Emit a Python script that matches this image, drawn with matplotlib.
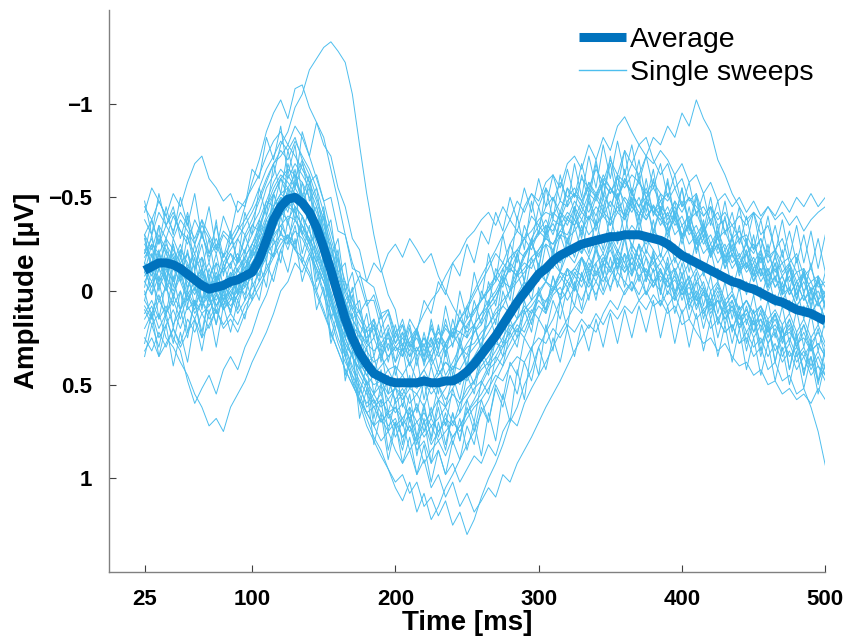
import numpy as np
import matplotlib
matplotlib.use("Agg")
import matplotlib.pyplot as plt

# time grid of the sweeps (ms)
time_ms = np.arange(25, 501, 5)

# grand average (uV, negative is drawn upwards)
average = [
    -0.11, -0.13, -0.15, -0.15, -0.14, -0.12, -0.09, -0.06, -0.03, -0.01, -0.02, -0.03,
    -0.05, -0.06, -0.08, -0.10, -0.17, -0.27, -0.38, -0.45, -0.49, -0.50, -0.47, -0.42,
    -0.34, -0.23, -0.11, 0.02, 0.15, 0.25, 0.33, 0.39, 0.44, 0.46, 0.48, 0.49,
    0.49, 0.49, 0.49, 0.48, 0.49, 0.49, 0.48, 0.48, 0.46, 0.43, 0.39, 0.34,
    0.29, 0.24, 0.18, 0.12, 0.06, 0.01, -0.04, -0.09, -0.12, -0.16, -0.19, -0.21,
    -0.23, -0.25, -0.26, -0.27, -0.28, -0.29, -0.29, -0.30, -0.30, -0.30, -0.29, -0.28,
    -0.27, -0.25, -0.22, -0.19, -0.17, -0.15, -0.13, -0.11, -0.09, -0.07, -0.05, -0.04,
    -0.02, -0.01, 0.01, 0.03, 0.05, 0.06, 0.08, 0.10, 0.11, 0.12, 0.14, 0.16,
]

# single sweeps
sweep_01 = [
    -0.05, -0.12, -0.02, -0.10, -0.18, -0.08, -0.14, -0.04, -0.10, 0.02, -0.06, -0.12,
    -0.20, -0.15, -0.28, -0.35, -0.42, -0.55, -0.62, -0.78, -0.85, -0.98, -1.05, -1.18,
    -1.24, -1.30, -1.33, -1.28, -1.22, -1.05, -0.78, -0.52, -0.30, -0.12, 0.02, 0.10,
    0.30, 0.18, 0.35, 0.28, 0.40, 0.32, 0.45, 0.38, 0.30, 0.34, 0.22, 0.18,
    0.10, 0.05, -0.05, -0.12, -0.08, -0.20, -0.25, -0.18, -0.30, -0.36, -0.28, -0.40,
    -0.35, -0.45, -0.38, -0.50, -0.42, -0.55, -0.48, -0.40, -0.52, -0.45, -0.38, -0.46,
    -0.40, -0.32, -0.38, -0.28, -0.35, -0.22, -0.28, -0.18, -0.25, -0.12, -0.20, -0.10,
    -0.15, -0.05, -0.12, 0.00, -0.08, 0.05, -0.02, 0.08, 0.02, 0.12, 0.06, 0.15,
]
sweep_02 = [
    -0.30, -0.22, -0.35, -0.28, -0.40, -0.32, -0.25, -0.38, -0.30, -0.20, -0.28, -0.18,
    -0.25, -0.32, -0.45, -0.58, -0.70, -0.85, -0.95, -1.02, -0.92, -1.08, -1.10, -0.98,
    -0.90, -0.82, -0.65, -0.48, -0.30, -0.15, -0.05, 0.08, 0.02, 0.15, 0.10, 0.22,
    0.18, 0.28, 0.20, 0.32, 0.25, 0.35, 0.28, 0.22, 0.30, 0.18, 0.12, 0.05,
    0.00, -0.08, -0.02, -0.15, -0.22, -0.18, -0.28, -0.35, -0.30, -0.42, -0.38, -0.48,
    -0.52, -0.45, -0.58, -0.50, -0.62, -0.55, -0.48, -0.60, -0.52, -0.45, -0.55, -0.42,
    -0.48, -0.38, -0.45, -0.35, -0.40, -0.30, -0.36, -0.25, -0.32, -0.22, -0.28, -0.18,
    -0.25, -0.15, -0.22, -0.10, -0.18, -0.08, -0.14, -0.02, -0.10, 0.00, -0.06, 0.04,
]
sweep_03 = [
    0.10, 0.18, 0.12, 0.25, 0.30, 0.38, 0.45, 0.55, 0.62, 0.72, 0.68, 0.75,
    0.62, 0.55, 0.48, 0.38, 0.30, 0.22, 0.12, 0.00, -0.05, -0.15, -0.10, -0.20,
    -0.12, -0.05, 0.05, 0.15, 0.28, 0.35, 0.45, 0.52, 0.60, 0.55, 0.68, 0.62,
    0.72, 0.65, 0.78, 0.70, 0.82, 0.75, 0.68, 0.72, 0.60, 0.55, 0.48, 0.40,
    0.35, 0.28, 0.30, 0.20, 0.15, 0.08, 0.12, 0.02, -0.05, 0.00, -0.10, -0.05,
    -0.12, -0.08, -0.18, -0.10, -0.15, -0.22, -0.12, -0.20, -0.14, -0.25, -0.18, -0.10,
    -0.15, -0.08, -0.12, -0.02, -0.08, 0.02, -0.05, 0.08, 0.00, 0.10, 0.05, 0.15,
    0.10, 0.18, 0.12, 0.22, 0.15, 0.25, 0.20, 0.30, 0.22, 0.32, 0.28, 0.35,
]
sweep_04 = [
    0.05, 0.12, 0.02, 0.15, 0.25, 0.32, 0.48, 0.60, 0.52, 0.45, 0.55, 0.42,
    0.35, 0.42, 0.30, 0.22, 0.10, 0.02, -0.10, -0.22, -0.30, -0.25, -0.35, -0.28,
    -0.20, -0.08, 0.05, 0.18, 0.30, 0.42, 0.50, 0.62, 0.58, 0.70, 0.65, 0.78,
    0.70, 0.85, 0.78, 0.92, 0.85, 0.80, 0.88, 0.78, 0.72, 0.65, 0.58, 0.50,
    0.42, 0.38, 0.30, 0.25, 0.18, 0.22, 0.12, 0.05, 0.10, 0.00, -0.05, -0.12,
    -0.08, -0.18, -0.12, -0.22, -0.15, -0.28, -0.20, -0.32, -0.25, -0.18, -0.28, -0.22,
    -0.15, -0.22, -0.10, -0.18, -0.05, -0.12, -0.02, 0.05, -0.04, 0.08, 0.02, 0.12,
    0.05, 0.15, 0.08, 0.20, 0.12, 0.25, 0.18, 0.30, 0.35, 0.28, 0.40, 0.45,
]
sweep_05 = [
    -0.15, -0.08, -0.20, -0.12, -0.05, -0.15, -0.02, -0.10, 0.05, -0.05, 0.08, 0.00,
    -0.08, 0.02, -0.10, -0.15, -0.22, -0.30, -0.42, -0.50, -0.45, -0.55, -0.48, -0.38,
    -0.25, -0.12, 0.05, 0.20, 0.35, 0.48, 0.60, 0.72, 0.80, 0.88, 0.95, 1.02,
    0.98, 1.08, 1.02, 1.15, 1.10, 1.20, 1.12, 1.25, 1.18, 1.30, 1.22, 1.10,
    1.00, 0.92, 0.82, 0.70, 0.62, 0.50, 0.42, 0.30, 0.22, 0.15, 0.05, 0.00,
    -0.08, -0.02, -0.12, -0.05, -0.15, -0.10, -0.20, -0.12, -0.22, -0.15, -0.08, -0.18,
    -0.10, -0.05, -0.12, 0.00, -0.08, 0.05, -0.02, 0.10, 0.05, 0.15, 0.08, 0.18,
    0.12, 0.22, 0.15, 0.28, 0.20, 0.32, 0.25, 0.35, 0.30, 0.40, 0.32, 0.42,
]
sweep_06 = [
    -0.25, -0.18, -0.30, -0.22, -0.15, -0.25, -0.12, -0.20, -0.08, -0.15, -0.05, -0.12,
    -0.20, -0.10, -0.18, -0.25, -0.32, -0.45, -0.52, -0.60, -0.55, -0.62, -0.50, -0.42,
    -0.30, -0.15, 0.02, 0.18, 0.32, 0.45, 0.58, 0.68, 0.78, 0.85, 0.95, 1.05,
    1.12, 1.02, 1.18, 1.08, 1.22, 1.15, 1.05, 0.98, 0.90, 0.82, 0.75, 0.65,
    0.58, 0.48, 0.40, 0.32, 0.25, 0.18, 0.10, 0.15, 0.05, 0.00, -0.08, -0.02,
    -0.10, -0.05, -0.15, -0.08, -0.18, -0.12, -0.22, -0.15, -0.08, -0.18, -0.10, -0.05,
    -0.12, -0.02, -0.08, 0.02, -0.05, 0.08, 0.00, 0.12, 0.05, 0.15, 0.10, 0.20,
    0.15, 0.25, 0.18, 0.28, 0.22, 0.35, 0.28, 0.38, 0.32, 0.42, 0.35, 0.45,
]
sweep_07 = [
    0.15, 0.08, 0.20, 0.12, 0.05, 0.15, 0.02, 0.10, -0.02, 0.08, 0.00, 0.10,
    0.02, 0.12, 0.05, -0.02, -0.10, -0.18, -0.30, -0.35, -0.28, -0.38, -0.30, -0.22,
    -0.12, 0.00, 0.12, 0.25, 0.35, 0.48, 0.55, 0.65, 0.72, 0.80, 0.75, 0.85,
    0.92, 0.85, 0.98, 0.90, 1.05, 0.98, 1.10, 1.02, 1.15, 1.08, 1.18, 1.12,
    1.05, 1.10, 0.98, 1.02, 0.92, 0.85, 0.78, 0.70, 0.62, 0.55, 0.48, 0.40,
    0.32, 0.25, 0.18, 0.22, 0.12, 0.05, 0.10, 0.00, -0.05, 0.02, -0.08, -0.02,
    -0.10, -0.05, 0.02, -0.08, 0.05, 0.00, 0.10, 0.05, 0.15, 0.08, 0.20, 0.12,
    0.22, 0.15, 0.28, 0.20, 0.32, 0.25, 0.35, 0.30, 0.42, 0.35, 0.48, 0.40,
]
sweep_08 = [
    -0.20, -0.28, -0.15, -0.25, -0.18, -0.10, -0.20, -0.05, -0.12, 0.00, -0.08, -0.02,
    -0.10, -0.05, -0.15, -0.20, -0.28, -0.38, -0.45, -0.52, -0.48, -0.58, -0.52, -0.45,
    -0.35, -0.22, -0.08, 0.05, 0.18, 0.30, 0.40, 0.50, 0.58, 0.65, 0.72, 0.68,
    0.78, 0.72, 0.85, 0.80, 0.92, 0.85, 0.98, 0.92, 1.02, 0.95, 0.88, 0.92,
    0.82, 0.88, 0.75, 0.68, 0.72, 0.60, 0.52, 0.45, 0.38, 0.30, 0.22, 0.15,
    0.08, 0.12, 0.02, -0.05, 0.02, -0.08, -0.15, -0.10, -0.18, -0.12, -0.22, -0.15,
    -0.20, -0.12, -0.18, -0.08, -0.15, -0.05, -0.10, 0.00, -0.05, 0.05, 0.00, 0.10,
    0.05, 0.12, 0.08, 0.18, 0.12, 0.22, 0.15, 0.25, 0.18, 0.28, 0.22, 0.30,
]
sweep_09 = [
    -0.30, -0.38, -0.25, -0.35, -0.42, -0.32, -0.28, -0.20, -0.30, -0.18, -0.25, -0.15,
    -0.22, -0.28, -0.35, -0.42, -0.50, -0.60, -0.68, -0.75, -0.70, -0.80, -0.72, -0.65,
    -0.55, -0.42, -0.28, -0.15, 0.00, 0.08, 0.15, 0.22, 0.18, 0.28, 0.22, 0.30,
    0.25, 0.32, 0.22, 0.30, 0.20, 0.28, 0.18, 0.25, 0.15, 0.10, 0.02, -0.05,
    -0.12, -0.20, -0.15, -0.25, -0.32, -0.28, -0.40, -0.35, -0.45, -0.50, -0.42, -0.55,
    -0.50, -0.60, -0.55, -0.65, -0.58, -0.70, -0.62, -0.75, -0.68, -0.78, -0.72, -0.82,
    -0.78, -0.88, -0.82, -0.95, -0.88, -1.02, -0.92, -0.85, -0.70, -0.62, -0.52, -0.45,
    -0.38, -0.42, -0.30, -0.35, -0.22, -0.28, -0.15, -0.20, -0.08, -0.12, -0.02, -0.05,
]
sweep_10 = [
    -0.22, -0.15, -0.28, -0.20, -0.12, -0.22, -0.15, -0.05, -0.12, -0.02, -0.10, 0.00,
    -0.08, -0.15, -0.22, -0.30, -0.38, -0.48, -0.58, -0.65, -0.60, -0.68, -0.62, -0.55,
    -0.45, -0.32, -0.18, -0.05, 0.08, 0.15, 0.22, 0.30, 0.25, 0.35, 0.28, 0.38,
    0.30, 0.40, 0.32, 0.25, 0.35, 0.28, 0.20, 0.25, 0.15, 0.08, 0.00, -0.08,
    -0.15, -0.22, -0.30, -0.38, -0.32, -0.45, -0.52, -0.48, -0.58, -0.62, -0.55, -0.68,
    -0.72, -0.65, -0.78, -0.70, -0.82, -0.75, -0.88, -0.93, -0.85, -0.78, -0.82, -0.70,
    -0.62, -0.68, -0.55, -0.60, -0.48, -0.52, -0.40, -0.45, -0.35, -0.38, -0.28, -0.32,
    -0.25, -0.20, -0.28, -0.15, -0.22, -0.10, -0.15, -0.05, -0.10, 0.00, -0.05, 0.02,
]
sweep_11 = [
    -0.42, -0.55, -0.48, -0.40, -0.52, -0.45, -0.58, -0.68, -0.72, -0.60, -0.55, -0.48,
    -0.52, -0.42, -0.48, -0.55, -0.62, -0.72, -0.80, -0.85, -0.78, -0.88, -0.82, -0.72,
    -0.60, -0.48, -0.32, -0.18, -0.05, 0.05, 0.12, 0.20, 0.15, 0.25, 0.18, 0.28,
    0.22, 0.30, 0.25, 0.35, 0.28, 0.20, 0.30, 0.22, 0.15, 0.20, 0.10, 0.05,
    -0.02, -0.08, -0.15, -0.10, -0.20, -0.28, -0.22, -0.32, -0.38, -0.30, -0.42, -0.35,
    -0.45, -0.38, -0.48, -0.40, -0.52, -0.45, -0.55, -0.48, -0.42, -0.50, -0.40, -0.45,
    -0.35, -0.42, -0.30, -0.35, -0.25, -0.30, -0.20, -0.25, -0.15, -0.22, -0.12, -0.18,
    -0.10, -0.15, -0.05, -0.12, -0.02, -0.08, 0.02, -0.05, 0.05, -0.02, 0.08, 0.02,
]
sweep_12 = [
    0.20, 0.12, 0.25, 0.18, 0.10, 0.20, 0.08, 0.15, 0.05, 0.12, 0.02, 0.08,
    0.00, 0.05, -0.05, -0.12, -0.20, -0.28, -0.35, -0.42, -0.38, -0.45, -0.40, -0.32,
    -0.22, -0.10, 0.02, 0.15, 0.25, 0.35, 0.42, 0.50, 0.45, 0.55, 0.48, 0.58,
    0.52, 0.60, 0.55, 0.62, 0.50, 0.58, 0.52, 0.45, 0.50, 0.40, 0.35, 0.28,
    0.22, 0.15, 0.08, 0.12, 0.02, -0.05, 0.00, -0.10, -0.05, -0.15, -0.10, -0.20,
    -0.15, -0.25, -0.18, -0.28, -0.20, -0.30, -0.22, -0.15, -0.25, -0.18, -0.10, -0.15,
    -0.05, -0.12, 0.00, -0.05, 0.08, 0.02, 0.12, 0.05, 0.15, 0.22, 0.18, 0.28,
    0.25, 0.35, 0.30, 0.42, 0.38, 0.48, 0.45, 0.55, 0.52, 0.62, 0.75, 0.93,
]
sweep_13 = [
    0.25, 0.32, 0.22, 0.30, 0.20, 0.28, 0.15, 0.22, 0.12, 0.20, 0.10, 0.18,
    0.12, 0.18, 0.08, 0.02, -0.05, -0.12, -0.20, -0.28, -0.25, -0.32, -0.28, -0.20,
    -0.10, 0.02, 0.15, 0.28, 0.38, 0.45, 0.52, 0.60, 0.55, 0.62, 0.58, 0.65,
    0.60, 0.68, 0.62, 0.70, 0.65, 0.58, 0.62, 0.55, 0.60, 0.52, 0.48, 0.42,
    0.38, 0.32, 0.25, 0.18, 0.22, 0.12, 0.08, 0.02, 0.06, -0.02, 0.02, -0.05,
    0.00, -0.08, -0.02, -0.10, -0.05, -0.12, -0.05, 0.02, -0.05, 0.05, 0.00, 0.08,
    0.05, 0.12, 0.08, 0.18, 0.15, 0.22, 0.28, 0.25, 0.32, 0.28, 0.35, 0.40,
    0.38, 0.45, 0.42, 0.50, 0.48, 0.55, 0.52, 0.58, 0.55, 0.60, 0.52, 0.58,
]
sweep_14 = [
    -0.18, -0.25, -0.20, -0.28, -0.22, -0.15, -0.20, -0.12, -0.18, -0.08, -0.15, -0.10,
    -0.15, -0.20, -0.12, -0.22, -0.30, -0.40, -0.52, -0.60, -0.65, -0.62, -0.58, -0.50,
    -0.42, -0.30, -0.18, -0.05, 0.08, 0.18, 0.25, 0.32, 0.38, 0.35, 0.42, 0.40,
    0.45, 0.38, 0.48, 0.42, 0.35, 0.45, 0.38, 0.42, 0.35, 0.30, 0.28, 0.22,
    0.18, 0.10, 0.05, 0.00, -0.08, -0.12, -0.18, -0.22, -0.28, -0.25, -0.32, -0.30,
    -0.38, -0.32, -0.40, -0.35, -0.42, -0.38, -0.45, -0.40, -0.48, -0.42, -0.38, -0.45,
    -0.40, -0.35, -0.42, -0.30, -0.35, -0.28, -0.32, -0.22, -0.28, -0.18, -0.22, -0.15,
    -0.20, -0.12, -0.18, -0.08, -0.12, -0.02, -0.08, 0.02, -0.05, 0.05, 0.00, 0.08,
]
sweep_15 = [
    0.02, -0.05, 0.05, -0.02, 0.08, 0.00, 0.10, 0.05, 0.12, 0.08, 0.02, 0.10,
    0.05, 0.00, -0.05, -0.08, -0.15, -0.22, -0.28, -0.35, -0.40, -0.38, -0.32, -0.25,
    -0.15, -0.05, 0.08, 0.20, 0.30, 0.40, 0.48, 0.55, 0.62, 0.58, 0.65, 0.62,
    0.68, 0.62, 0.70, 0.65, 0.72, 0.68, 0.62, 0.70, 0.65, 0.58, 0.52, 0.48,
    0.40, 0.35, 0.28, 0.22, 0.15, 0.10, 0.05, 0.00, -0.05, -0.02, -0.10, -0.08,
    -0.12, -0.18, -0.10, -0.15, -0.20, -0.12, -0.18, -0.10, -0.15, -0.08, -0.12, -0.05,
    -0.08, -0.02, -0.06, 0.02, -0.02, 0.05, 0.02, 0.08, 0.05, 0.12, 0.08, 0.15,
    0.10, 0.18, 0.15, 0.22, 0.18, 0.25, 0.22, 0.28, 0.25, 0.32, 0.28, 0.35,
]
sweep_16 = [
    -0.38, -0.30, -0.42, -0.35, -0.28, -0.38, -0.32, -0.25, -0.35, -0.28, -0.20, -0.30,
    -0.25, -0.32, -0.38, -0.45, -0.55, -0.65, -0.72, -0.80, -0.75, -0.82, -0.70, -0.62,
    -0.50, -0.38, -0.25, -0.10, 0.02, 0.10, 0.18, 0.25, 0.20, 0.30, 0.25, 0.32,
    0.28, 0.35, 0.30, 0.38, 0.32, 0.25, 0.32, 0.28, 0.22, 0.25, 0.18, 0.12,
    0.05, 0.00, -0.08, -0.15, -0.10, -0.20, -0.25, -0.32, -0.28, -0.38, -0.35, -0.42,
    -0.38, -0.48, -0.42, -0.52, -0.45, -0.55, -0.50, -0.60, -0.52, -0.58, -0.50, -0.55,
    -0.48, -0.52, -0.42, -0.48, -0.38, -0.42, -0.32, -0.38, -0.28, -0.32, -0.22, -0.28,
    -0.20, -0.25, -0.15, -0.20, -0.10, -0.15, -0.05, -0.10, 0.00, -0.05, 0.05, 0.00,
]
sweep_17 = [
    -0.12, -0.05, -0.15, -0.08, 0.00, -0.10, 0.02, -0.05, 0.05, -0.02, 0.08, 0.00,
    -0.05, -0.12, -0.18, -0.25, -0.35, -0.45, -0.55, -0.62, -0.58, -0.52, -0.45, -0.38,
    -0.28, -0.18, -0.10, 0.00, 0.05, 0.00, -0.08, -0.05, -0.15, -0.10, -0.20, -0.25,
    -0.18, -0.28, -0.22, -0.15, -0.20, -0.08, 0.00, 0.08, 0.15, 0.22, 0.18, 0.12,
    0.08, 0.02, -0.05, -0.02, -0.10, -0.15, -0.12, -0.22, -0.28, -0.25, -0.32, -0.38,
    -0.35, -0.42, -0.38, -0.45, -0.40, -0.48, -0.42, -0.50, -0.45, -0.40, -0.48, -0.42,
    -0.38, -0.32, -0.40, -0.30, -0.35, -0.25, -0.30, -0.20, -0.25, -0.15, -0.20, -0.12,
    -0.15, -0.08, -0.12, -0.02, -0.08, 0.02, -0.02, 0.08, 0.02, 0.12, 0.05, 0.15,
]
sweep_18 = [
    0.32, 0.25, 0.35, 0.28, 0.20, 0.30, 0.22, 0.15, 0.25, 0.18, 0.10, 0.20,
    0.15, 0.22, 0.12, 0.05, -0.02, -0.10, -0.18, -0.25, -0.30, -0.22, -0.18, -0.10,
    0.00, 0.10, 0.22, 0.32, 0.42, 0.50, 0.58, 0.65, 0.72, 0.68, 0.75, 0.70,
    0.78, 0.72, 0.80, 0.75, 0.68, 0.75, 0.70, 0.78, 0.72, 0.65, 0.60, 0.55,
    0.48, 0.42, 0.35, 0.28, 0.20, 0.25, 0.15, 0.08, 0.12, 0.02, -0.02, 0.05,
    -0.02, 0.05, -0.05, 0.02, -0.08, -0.02, -0.10, -0.05, 0.00, -0.08, 0.02, -0.05,
    0.00, 0.08, 0.02, 0.12, 0.05, 0.15, 0.10, 0.20, 0.15, 0.22, 0.18, 0.28,
    0.22, 0.30, 0.25, 0.35, 0.28, 0.38, 0.32, 0.42, 0.35, 0.45, 0.40, 0.48,
]
sweep_19 = [
    -0.08, -0.15, -0.05, -0.12, -0.20, -0.10, -0.05, 0.02, -0.08, 0.05, -0.02, 0.05,
    -0.02, -0.08, -0.12, -0.18, -0.25, -0.35, -0.45, -0.52, -0.55, -0.50, -0.45, -0.38,
    -0.30, -0.18, -0.05, 0.08, 0.20, 0.30, 0.38, 0.45, 0.50, 0.48, 0.55, 0.52,
    0.58, 0.52, 0.55, 0.48, 0.55, 0.50, 0.58, 0.52, 0.45, 0.48, 0.40, 0.35,
    0.30, 0.22, 0.18, 0.10, 0.05, 0.00, -0.05, -0.08, -0.12, -0.18, -0.15, -0.22,
    -0.25, -0.20, -0.28, -0.22, -0.30, -0.25, -0.32, -0.28, -0.35, -0.30, -0.25, -0.32,
    -0.28, -0.22, -0.25, -0.18, -0.20, -0.12, -0.15, -0.08, -0.12, -0.05, -0.08, 0.00,
    -0.05, 0.02, -0.02, 0.05, 0.02, 0.08, 0.05, 0.12, 0.08, 0.15, 0.12, 0.20,
]
sweep_20 = [
    -0.05, 0.02, -0.08, 0.00, -0.12, -0.05, 0.05, -0.02, 0.08, 0.02, -0.05, 0.05,
    0.00, -0.05, -0.10, -0.15, -0.22, -0.32, -0.40, -0.48, -0.52, -0.45, -0.40, -0.32,
    -0.22, -0.12, 0.00, 0.12, 0.22, 0.32, 0.38, 0.45, 0.40, 0.48, 0.42, 0.50,
    0.45, 0.52, 0.48, 0.42, 0.50, 0.45, 0.38, 0.42, 0.35, 0.28, 0.22, 0.15,
    0.08, 0.02, -0.05, -0.12, -0.08, -0.18, -0.25, -0.30, -0.35, -0.32, -0.42, -0.38,
    -0.48, -0.42, -0.52, -0.48, -0.58, -0.52, -0.62, -0.58, -0.68, -0.62, -0.72, -0.68,
    -0.75, -0.70, -0.62, -0.68, -0.58, -0.62, -0.52, -0.58, -0.48, -0.52, -0.45, -0.50,
    -0.42, -0.48, -0.40, -0.45, -0.38, -0.42, -0.35, -0.40, -0.32, -0.38, -0.42, -0.45,
]
sweep_21 = [
    0.08, 0.15, 0.05, 0.12, 0.02, 0.10, 0.00, 0.08, -0.02, 0.05, 0.12, 0.05,
    0.10, 0.02, -0.05, -0.10, -0.18, -0.25, -0.32, -0.40, -0.45, -0.42, -0.35, -0.28,
    -0.18, -0.08, 0.05, 0.15, 0.25, 0.35, 0.42, 0.48, 0.55, 0.50, 0.58, 0.52,
    0.55, 0.48, 0.52, 0.45, 0.50, 0.42, 0.48, 0.40, 0.42, 0.35, 0.30, 0.25,
    0.18, 0.12, 0.08, 0.00, -0.05, -0.10, -0.15, -0.20, -0.25, -0.22, -0.30, -0.28,
    -0.32, -0.38, -0.30, -0.35, -0.40, -0.35, -0.42, -0.38, -0.45, -0.40, -0.48, -0.42,
    -0.45, -0.40, -0.48, -0.42, -0.50, -0.45, -0.40, -0.45, -0.38, -0.42, -0.35, -0.40,
    -0.35, -0.42, -0.38, -0.45, -0.40, -0.48, -0.42, -0.50, -0.45, -0.52, -0.45, -0.50,
]
sweep_22 = [
    -0.10, -0.02, -0.12, -0.05, 0.02, -0.08, 0.05, -0.02, 0.08, 0.00, 0.05, -0.03,
    0.02, -0.05, -0.10, -0.18, -0.25, -0.35, -0.42, -0.50, -0.48, -0.42, -0.35, -0.25,
    -0.15, -0.05, 0.08, 0.18, 0.28, 0.35, 0.42, 0.38, 0.45, 0.40, 0.35, 0.30,
    0.32, 0.25, 0.20, 0.12, 0.05, 0.00, -0.08, -0.15, -0.20, -0.28, -0.32, -0.38,
    -0.42, -0.35, -0.45, -0.38, -0.48, -0.42, -0.52, -0.45, -0.55, -0.48, -0.58, -0.50,
    -0.55, -0.48, -0.58, -0.52, -0.60, -0.55, -0.50, -0.58, -0.52, -0.45, -0.50, -0.42,
    -0.38, -0.45, -0.35, -0.40, -0.30, -0.35, -0.25, -0.30, -0.20, -0.25, -0.15, -0.20,
    -0.12, -0.18, -0.08, -0.12, -0.02, -0.08, 0.02, -0.05, 0.05, 0.00, 0.08, 0.02,
]
sweep_23 = [
    0.12, 0.05, 0.15, 0.08, 0.18, 0.10, 0.02, 0.12, 0.05, 0.15, 0.08, 0.02,
    0.08, 0.02, -0.02, -0.08, -0.12, -0.20, -0.25, -0.30, -0.28, -0.22, -0.15, -0.08,
    0.02, 0.12, 0.22, 0.32, 0.42, 0.50, 0.58, 0.65, 0.62, 0.70, 0.65, 0.72,
    0.68, 0.75, 0.70, 0.78, 0.72, 0.80, 0.75, 0.70, 0.75, 0.68, 0.62, 0.58,
    0.52, 0.45, 0.48, 0.40, 0.35, 0.38, 0.30, 0.25, 0.28, 0.20, 0.25, 0.18,
    0.22, 0.15, 0.20, 0.12, 0.18, 0.10, 0.15, 0.08, 0.12, 0.05, 0.10, 0.02,
    0.08, 0.00, 0.05, -0.02, 0.02, -0.05, 0.00, 0.05, -0.02, 0.08, 0.02, 0.10,
    0.05, 0.12, 0.08, 0.15, 0.10, 0.18, 0.12, 0.22, 0.15, 0.25, 0.18, 0.28,
]
sweep_24 = [
    -0.45, -0.38, -0.48, -0.40, -0.32, -0.42, -0.35, -0.28, -0.38, -0.30, -0.22, -0.32,
    -0.28, -0.35, -0.30, -0.38, -0.48, -0.58, -0.68, -0.72, -0.78, -0.72, -0.65, -0.58,
    -0.48, -0.35, -0.22, -0.08, 0.05, 0.15, 0.22, 0.28, 0.32, 0.28, 0.35, 0.30,
    0.35, 0.28, 0.32, 0.25, 0.30, 0.22, 0.28, 0.20, 0.22, 0.15, 0.10, 0.05,
    0.00, -0.05, -0.12, -0.18, -0.22, -0.28, -0.32, -0.38, -0.42, -0.40, -0.48, -0.45,
    -0.52, -0.48, -0.55, -0.50, -0.58, -0.52, -0.60, -0.55, -0.62, -0.58, -0.52, -0.58,
    -0.52, -0.48, -0.55, -0.45, -0.50, -0.42, -0.45, -0.38, -0.42, -0.32, -0.35, -0.28,
    -0.30, -0.22, -0.28, -0.18, -0.22, -0.15, -0.18, -0.10, -0.12, -0.05, -0.08, -0.02,
]
sweep_25 = [
    -0.30, -0.12, -0.35, -0.05, -0.28, -0.18, -0.40, -0.10, -0.32, -0.15, -0.38, -0.08,
    -0.30, -0.15, -0.42, -0.30, -0.55, -0.40, -0.68, -0.52, -0.75, -0.60, -0.70, -0.48,
    -0.55, -0.30, -0.38, -0.10, -0.15, 0.10, 0.05, 0.28, 0.15, 0.38, 0.22, 0.45,
    0.30, 0.52, 0.35, 0.58, 0.40, 0.55, 0.32, 0.50, 0.28, 0.42, 0.18, 0.30,
    0.05, 0.18, -0.08, 0.05, -0.20, -0.05, -0.28, -0.12, -0.35, -0.20, -0.40, -0.25,
    -0.45, -0.30, -0.52, -0.35, -0.58, -0.40, -0.62, -0.42, -0.55, -0.38, -0.60, -0.40,
    -0.52, -0.35, -0.48, -0.28, -0.45, -0.25, -0.38, -0.18, -0.35, -0.15, -0.30, -0.10,
    -0.28, -0.08, -0.22, -0.02, -0.20, 0.02, -0.15, 0.05, -0.12, 0.10, -0.08, 0.08,
]
sweep_26 = [
    0.05, -0.12, 0.15, -0.05, 0.20, 0.00, 0.22, 0.05, 0.25, 0.02, 0.18, -0.02,
    0.12, -0.08, 0.05, -0.15, -0.05, -0.28, -0.18, -0.40, -0.25, -0.45, -0.20, -0.35,
    -0.05, -0.18, 0.15, 0.05, 0.35, 0.22, 0.55, 0.40, 0.68, 0.50, 0.75, 0.58,
    0.82, 0.62, 0.88, 0.68, 0.92, 0.70, 0.85, 0.65, 0.80, 0.58, 0.70, 0.48,
    0.55, 0.35, 0.40, 0.22, 0.30, 0.10, 0.22, 0.00, 0.12, -0.08, 0.05, -0.12,
    0.00, -0.18, -0.05, -0.25, -0.08, -0.28, -0.12, -0.30, -0.10, -0.25, -0.05, -0.20,
    0.02, -0.15, 0.05, -0.10, 0.10, -0.05, 0.15, 0.00, 0.18, 0.05, 0.22, 0.08,
    0.28, 0.10, 0.32, 0.15, 0.38, 0.18, 0.42, 0.22, 0.45, 0.25, 0.48, 0.30,
]
sweep_27 = [
    -0.20, -0.38, -0.25, -0.45, -0.30, -0.50, -0.35, -0.52, -0.28, -0.45, -0.22, -0.40,
    -0.30, -0.48, -0.45, -0.65, -0.60, -0.82, -0.70, -0.88, -0.62, -0.78, -0.50, -0.62,
    -0.35, -0.45, -0.18, -0.28, 0.00, -0.10, 0.12, 0.05, 0.25, 0.12, 0.32, 0.18,
    0.35, 0.20, 0.40, 0.22, 0.38, 0.18, 0.35, 0.15, 0.28, 0.08, 0.20, 0.00,
    0.08, -0.12, -0.05, -0.25, -0.15, -0.35, -0.25, -0.45, -0.30, -0.50, -0.38, -0.55,
    -0.42, -0.62, -0.48, -0.68, -0.50, -0.72, -0.55, -0.75, -0.52, -0.70, -0.48, -0.65,
    -0.42, -0.60, -0.38, -0.55, -0.32, -0.50, -0.28, -0.45, -0.22, -0.40, -0.18, -0.35,
    -0.12, -0.30, -0.08, -0.25, -0.05, -0.22, 0.00, -0.18, 0.02, -0.15, 0.05, -0.10,
]
sweep_28 = [
    0.28, 0.12, 0.35, 0.18, 0.40, 0.22, 0.38, 0.15, 0.32, 0.10, 0.30, 0.08,
    0.22, 0.05, 0.15, -0.05, 0.05, -0.15, -0.05, -0.22, -0.10, -0.28, -0.05, -0.18,
    0.10, -0.02, 0.28, 0.15, 0.45, 0.32, 0.60, 0.48, 0.72, 0.58, 0.85, 0.70,
    0.92, 0.78, 0.98, 0.82, 1.02, 0.85, 0.98, 0.80, 0.90, 0.72, 0.82, 0.62,
    0.70, 0.50, 0.58, 0.38, 0.45, 0.25, 0.32, 0.15, 0.22, 0.05, 0.15, -0.02,
    0.08, -0.10, 0.05, -0.15, 0.00, -0.18, -0.02, -0.20, 0.00, -0.15, 0.02, -0.12,
    0.08, -0.08, 0.12, -0.02, 0.15, 0.02, 0.20, 0.05, 0.25, 0.10, 0.28, 0.12,
    0.32, 0.15, 0.35, 0.18, 0.38, 0.20, 0.42, 0.25, 0.45, 0.28, 0.50, 0.32,
]
sweep_29 = [
    -0.02, -0.20, 0.00, -0.18, 0.05, -0.15, 0.08, -0.10, 0.10, -0.08, 0.12, -0.05,
    0.05, -0.12, -0.02, -0.22, -0.15, -0.35, -0.30, -0.50, -0.42, -0.60, -0.48, -0.55,
    -0.28, -0.40, -0.05, -0.18, 0.15, 0.02, 0.32, 0.20, 0.45, 0.30, 0.55, 0.40,
    0.62, 0.45, 0.65, 0.48, 0.68, 0.50, 0.62, 0.45, 0.58, 0.40, 0.50, 0.32,
    0.40, 0.20, 0.28, 0.08, 0.15, -0.05, 0.05, -0.15, -0.05, -0.22, -0.10, -0.28,
    -0.18, -0.35, -0.20, -0.38, -0.22, -0.40, -0.25, -0.42, -0.22, -0.40, -0.20, -0.38,
    -0.18, -0.35, -0.15, -0.30, -0.10, -0.28, -0.08, -0.22, -0.05, -0.20, 0.00, -0.15,
    0.02, -0.12, 0.05, -0.10, 0.08, -0.05, 0.12, -0.02, 0.15, 0.00, 0.18, 0.05,
]
sweep_30 = [
    -0.15, 0.02, -0.20, -0.02, -0.25, -0.05, -0.22, 0.00, -0.18, 0.02, -0.15, 0.05,
    -0.10, 0.02, -0.18, -0.05, -0.30, -0.15, -0.45, -0.30, -0.55, -0.38, -0.58, -0.40,
    -0.45, -0.28, -0.25, -0.05, -0.05, 0.15, 0.10, 0.28, 0.18, 0.35, 0.20, 0.38,
    0.22, 0.40, 0.20, 0.38, 0.15, 0.32, 0.08, 0.25, 0.00, 0.15, -0.10, 0.05,
    -0.20, -0.05, -0.30, -0.12, -0.40, -0.22, -0.48, -0.30, -0.55, -0.38, -0.62, -0.45,
    -0.68, -0.50, -0.72, -0.55, -0.78, -0.60, -0.80, -0.62, -0.78, -0.58, -0.72, -0.55,
    -0.68, -0.50, -0.62, -0.45, -0.58, -0.40, -0.52, -0.35, -0.48, -0.30, -0.42, -0.25,
    -0.40, -0.22, -0.38, -0.20, -0.35, -0.18, -0.32, -0.15, -0.30, -0.12, -0.28, -0.10,
]
sweep_31 = [
    -0.15, -0.30, -0.10, -0.28, -0.05, -0.22, 0.00, -0.18, 0.05, -0.12, 0.02, -0.15,
    -0.02, -0.18, -0.10, -0.25, -0.22, -0.38, -0.32, -0.48, -0.35, -0.52, -0.30, -0.45,
    -0.15, -0.28, 0.05, -0.05, 0.25, 0.12, 0.42, 0.30, 0.55, 0.42, 0.65, 0.50,
    0.72, 0.55, 0.78, 0.60, 0.80, 0.62, 0.82, 0.65, 0.80, 0.62, 0.75, 0.58,
    0.70, 0.52, 0.62, 0.45, 0.55, 0.38, 0.48, 0.30, 0.42, 0.25, 0.38, 0.20,
    0.35, 0.18, 0.32, 0.15, 0.30, 0.12, 0.28, 0.10, 0.25, 0.08, 0.22, 0.05,
    0.25, 0.08, 0.28, 0.10, 0.30, 0.12, 0.32, 0.15, 0.35, 0.18, 0.38, 0.20,
    0.42, 0.25, 0.45, 0.28, 0.48, 0.30, 0.50, 0.32, 0.52, 0.35, 0.55, 0.38,
]
sweep_32 = [
    -0.48, -0.30, -0.52, -0.35, -0.45, -0.28, -0.42, -0.25, -0.38, -0.20, -0.35, -0.18,
    -0.32, -0.15, -0.30, -0.18, -0.38, -0.28, -0.52, -0.42, -0.62, -0.55, -0.68, -0.58,
    -0.62, -0.48, -0.50, -0.32, -0.30, -0.12, -0.10, 0.05, 0.05, 0.20, 0.12, 0.28,
    0.18, 0.35, 0.22, 0.40, 0.25, 0.42, 0.28, 0.45, 0.25, 0.40, 0.18, 0.32,
    0.10, 0.25, 0.00, 0.12, -0.10, 0.02, -0.18, -0.05, -0.25, -0.12, -0.30, -0.18,
    -0.35, -0.20, -0.40, -0.25, -0.45, -0.28, -0.48, -0.30, -0.50, -0.32, -0.48, -0.30,
    -0.45, -0.28, -0.42, -0.25, -0.38, -0.20, -0.35, -0.18, -0.30, -0.12, -0.25, -0.08,
    -0.20, -0.05, -0.18, -0.02, -0.15, 0.02, -0.12, 0.05, -0.10, 0.08, -0.08, 0.10,
]
sweep_33 = [
    0.00, 0.15, -0.05, 0.12, -0.08, 0.10, -0.10, 0.08, -0.12, 0.05, -0.08, 0.08,
    -0.05, 0.10, -0.08, 0.05, -0.15, -0.02, -0.28, -0.15, -0.38, -0.22, -0.40, -0.25,
    -0.32, -0.18, -0.15, 0.00, 0.05, 0.20, 0.22, 0.38, 0.35, 0.50, 0.45, 0.60,
    0.55, 0.70, 0.60, 0.75, 0.62, 0.78, 0.65, 0.82, 0.68, 0.85, 0.70, 0.88,
    0.65, 0.80, 0.55, 0.70, 0.42, 0.58, 0.30, 0.45, 0.18, 0.32, 0.05, 0.20,
    -0.05, 0.10, -0.10, 0.05, -0.15, 0.00, -0.18, -0.02, -0.20, -0.05, -0.18, -0.02,
    -0.12, 0.02, -0.10, 0.05, -0.05, 0.10, 0.00, 0.15, 0.02, 0.18, 0.05, 0.20,
    0.08, 0.22, 0.10, 0.25, 0.12, 0.28, 0.15, 0.30, 0.18, 0.32, 0.20, 0.35,
]
sweep_34 = [
    -0.28, -0.10, -0.22, -0.05, -0.25, -0.08, -0.30, -0.12, -0.25, -0.05, -0.20, -0.02,
    -0.15, 0.00, -0.22, -0.08, -0.35, -0.22, -0.52, -0.40, -0.68, -0.55, -0.85, -0.72,
    -0.90, -0.78, -0.72, -0.55, -0.45, -0.28, -0.22, -0.05, -0.02, 0.12, 0.10, 0.25,
    0.15, 0.30, 0.20, 0.35, 0.18, 0.32, 0.15, 0.30, 0.10, 0.25, 0.05, 0.18,
    -0.05, 0.08, -0.12, 0.00, -0.20, -0.05, -0.28, -0.12, -0.32, -0.18, -0.38, -0.22,
    -0.42, -0.28, -0.48, -0.32, -0.50, -0.35, -0.52, -0.38, -0.50, -0.35, -0.48, -0.32,
    -0.45, -0.30, -0.42, -0.28, -0.38, -0.22, -0.35, -0.20, -0.30, -0.15, -0.28, -0.12,
    -0.22, -0.08, -0.20, -0.05, -0.15, 0.00, -0.12, 0.02, -0.08, 0.05, -0.05, 0.08,
]
sweep_35 = [
    0.35, 0.18, 0.30, 0.12, 0.28, 0.10, 0.25, 0.05, 0.22, 0.02, 0.18, 0.00,
    0.12, -0.05, 0.02, -0.12, -0.08, -0.22, -0.18, -0.32, -0.22, -0.35, -0.15, -0.28,
    0.00, -0.12, 0.25, 0.10, 0.48, 0.32, 0.68, 0.52, 0.82, 0.65, 0.90, 0.72,
    0.85, 0.68, 0.82, 0.62, 0.78, 0.58, 0.72, 0.52, 0.65, 0.45, 0.55, 0.35,
    0.45, 0.25, 0.35, 0.15, 0.25, 0.05, 0.18, -0.02, 0.10, -0.08, 0.05, -0.12,
    -0.02, -0.18, -0.05, -0.22, -0.08, -0.25, -0.10, -0.28, -0.08, -0.25, -0.05, -0.22,
    0.00, -0.18, 0.02, -0.15, 0.05, -0.10, 0.08, -0.08, 0.12, -0.05, 0.15, -0.02,
    0.18, 0.02, 0.22, 0.05, 0.25, 0.08, 0.28, 0.10, 0.30, 0.12, 0.32, 0.15,
]
sweep_36 = [
    -0.10, -0.25, -0.05, -0.22, -0.02, -0.18, -0.08, -0.25, -0.12, -0.28, -0.05, -0.20,
    -0.12, -0.28, -0.20, -0.35, -0.32, -0.48, -0.45, -0.60, -0.50, -0.65, -0.45, -0.58,
    -0.30, -0.42, -0.10, -0.22, 0.10, -0.02, 0.25, 0.12, 0.35, 0.20, 0.38, 0.22,
    0.30, 0.15, 0.22, 0.05, 0.12, -0.05, 0.02, -0.15, -0.08, -0.25, -0.15, -0.32,
    -0.25, -0.42, -0.32, -0.50, -0.38, -0.55, -0.42, -0.60, -0.45, -0.62, -0.48, -0.65,
    -0.50, -0.68, -0.52, -0.70, -0.50, -0.68, -0.48, -0.65, -0.45, -0.62, -0.42, -0.60,
    -0.40, -0.58, -0.38, -0.55, -0.35, -0.52, -0.32, -0.50, -0.30, -0.48, -0.28, -0.45,
    -0.25, -0.42, -0.22, -0.40, -0.20, -0.38, -0.18, -0.35, -0.15, -0.32, -0.12, -0.30,
]

sweeps = [sweep_01, sweep_02, sweep_03, sweep_04, sweep_05, sweep_06, sweep_07, sweep_08,
          sweep_09, sweep_10, sweep_11, sweep_12, sweep_13, sweep_14, sweep_15, sweep_16,
          sweep_17, sweep_18, sweep_19, sweep_20, sweep_21, sweep_22, sweep_23, sweep_24,
          sweep_25, sweep_26, sweep_27, sweep_28, sweep_29, sweep_30, sweep_31, sweep_32,
          sweep_33, sweep_34, sweep_35, sweep_36]

x_ticks = [25, 100, 200, 300, 400, 500]
y_ticks = [-1, -0.5, 0, 0.5, 1]
y_tick_labels = ["\u22121", "\u22120.5", "0", "0.5", "1"]

avg_color = "#0072BD"
sweep_color = "#4DBEEE"

plt.rcParams["font.family"] = ["Liberation Sans", "DejaVu Sans"]

fig = plt.figure(figsize=(8.43, 6.38), dpi=100)
ax = fig.add_axes([0.129, 0.1034, 0.85, 0.881])

# single sweeps first, then the average on top
for i, s in enumerate(sweeps):
    ax.plot(time_ms, s, color=sweep_color, lw=0.7,
            label="Single sweeps" if i == 0 else None)
ax.plot(time_ms, average, color=avg_color, lw=6.5, label="Average",
        solid_capstyle="butt")

ax.set_xlim(0, 500)
ax.set_ylim(1.5, -1.5)

ax.set_xticks(x_ticks)
ax.set_yticks(y_ticks)
ax.set_yticklabels(y_tick_labels)
ax.tick_params(direction="in", length=5, width=0.8, colors="#404040",
               labelcolor="black", labelsize=16, pad=12)
for lab in ax.get_xticklabels() + ax.get_yticklabels():
    lab.set_fontweight("bold")

for side in ["top", "right"]:
    ax.spines[side].set_visible(False)
for side in ["left", "bottom"]:
    ax.spines[side].set_color("#808080")
    ax.spines[side].set_linewidth(1.0)

ax.set_xlabel("Time [ms]", fontsize=20, fontweight="bold", labelpad=0)
ax.set_ylabel("Amplitude [\u00b5V]", fontsize=20, fontweight="bold", labelpad=6)

handles, labels = ax.get_legend_handles_labels()
order = [labels.index("Average"), labels.index("Single sweeps")]
leg = ax.legend([handles[k] for k in order], [labels[k] for k in order],
                loc="upper right", frameon=False, fontsize=20.5, handlelength=1.65,
                handletextpad=0.15, labelspacing=0.25, borderaxespad=0.0,
                bbox_to_anchor=(1.0, 0.99))
leg.legend_handles[1].set_linewidth(1.0)

fig.savefig("out.png", dpi=100)
